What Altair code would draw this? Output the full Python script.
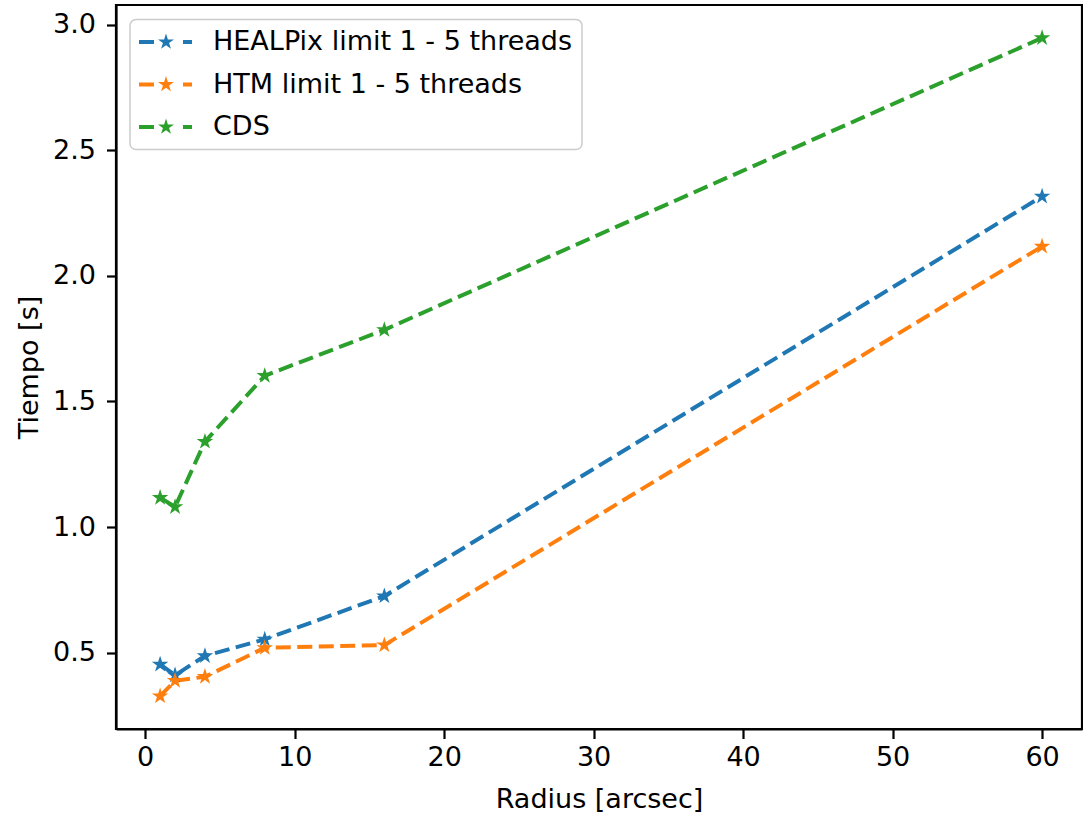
import altair as alt
import pandas as pd

radius = [1, 2, 4, 8, 16, 60]
healpix = [0.453, 0.410, 0.487, 0.553, 0.725, 2.316]
htm = [0.327, 0.388, 0.404, 0.519, 0.530, 2.117]
cds = [1.117, 1.080, 1.340, 1.602, 1.785, 2.947]

names = ["HEALPix limit 1 - 5 threads", "HTM limit 1 - 5 threads", "CDS"]
colors = ["#1f77b4", "#ff7f0e", "#2ca02c"]
x_ticks = [0, 10, 20, 30, 40, 50, 60]
y_ticks = [0.5, 1.0, 1.5, 2.0, 2.5, 3.0]

rows = []
for name, vals in zip(names, [healpix, htm, cds]):
    for r, v in zip(radius, vals):
        rows.append({"radius": r, "tiempo": v, "series": name})
df = pd.DataFrame(rows)

FONT = "DejaVu Sans"

# matplotlib-like 5-point star (unit radius)
STAR = ("M0,-1L0.2245,-0.309L0.9511,-0.309L0.3633,0.118L0.5878,0.809"
        "L0,0.382L-0.5878,0.809L-0.3633,0.118L-0.9511,-0.309L-0.2245,-0.309Z")
# legend handle: dash - star - dash (1 unit = 13.5 px, symbol centre at +1)
LEG = ("M-1,-0.148L0.111,-0.148L0.111,0.148L-1,0.148Z"
       "M2.259,-0.148L2.926,-0.148L2.926,0.148L2.259,0.148Z"
       "M1,-0.622L1.1396,-0.1922L1.5916,-0.1922L1.226,0.0734L1.3656,0.5032"
       "L1,0.2376L0.6344,0.5032L0.774,0.0734L0.4084,-0.1922L0.8604,-0.1922Z")

xenc = alt.X("radius:Q",
             scale=alt.Scale(domain=[-1.95, 62.67], nice=False, zero=False),
             axis=alt.Axis(values=x_ticks, title="Radius [arcsec]", format="d",
                           labelPadding=6, titlePadding=16))
yenc = alt.Y("tiempo:Q",
             scale=alt.Scale(domain=[0.196, 3.078], nice=False, zero=False),
             axis=alt.Axis(values=y_ticks, title="Tiempo [s]", format=".1f",
                           labelPadding=11, titlePadding=9))

base = alt.Chart(df).encode(x=xenc, y=yenc)

line_layers = [
    base.transform_filter(alt.datum.series == name).mark_line(
        strokeDash=[15, 6.5], strokeWidth=4, color=col)
    for name, col in zip(names, colors)
]

points = base.mark_point(shape=STAR, filled=True, size=300, opacity=1,
                         strokeWidth=0).encode(
    color=alt.Color("series:N", scale=alt.Scale(domain=names, range=colors),
                    sort=names,
                    legend=alt.Legend(
                        title=None, orient="none", legendX=14, legendY=14.5,
                        symbolType=LEG, symbolSize=729, symbolStrokeWidth=0,
                        symbolOpacity=1, labelFontSize=27, labelFont=FONT,
                        labelColor="black", labelOffset=47, labelLimit=1000,
                        padding=9, rowPadding=14.5, strokeColor="#cccccc",
                        fillColor="rgba(255,255,255,0.8)", cornerRadius=6)),
)

chart = alt.layer(*line_layers, points).properties(
    width=966, height=724,
    padding={"left": 116, "top": 5, "right": 1, "bottom": 84},
    autosize=alt.AutoSizeParams(type="none"),
).configure_view(stroke="black", strokeWidth=2.2).configure_axis(
    grid=False, domainColor="black", domainWidth=2.2, tickColor="black",
    tickWidth=2.2, tickSize=9.5, labelFont=FONT, labelFontSize=27,
    labelColor="black", titleFont=FONT, titleFontSize=27,
    titleFontWeight="normal", titleColor="black",
).configure_legend(strokeWidth=1.5)

chart.save("out.html", embed_options={"renderer": "svg", "actions": False})
